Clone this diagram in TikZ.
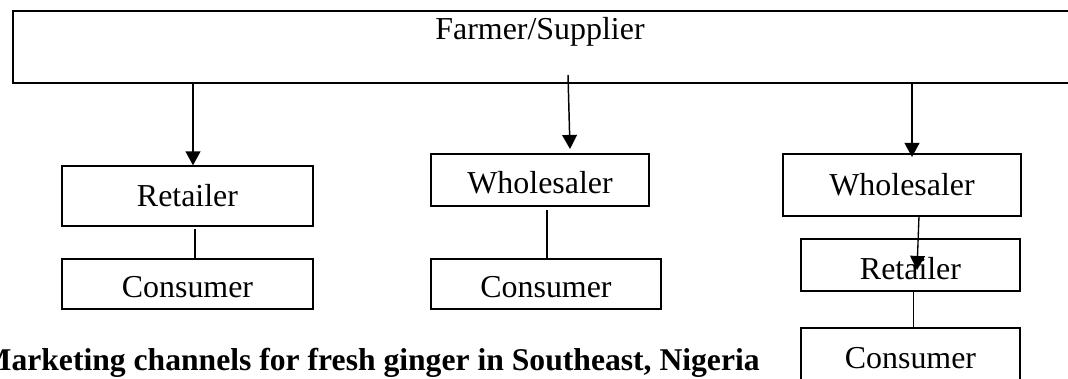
\documentclass[tikz,border=0pt]{standalone}
\usepackage{fontspec}
\setmainfont{Liberation Serif}
\usetikzlibrary{arrows.meta}

\tikzset{
  chanbox/.style={draw, line width=0.9pt, inner sep=0pt,
    font=\fontsize{22.7}{27}\selectfont},
  lowtext/.style={text height=#1, text depth=0pt},
  flow/.style={-{Triangle[length=10pt,width=10.5pt]}}
}

\begin{document}
\begin{tikzpicture}[x=0.025cm,y=-0.025cm]
   \useasboundingbox (0,0) rectangle (1068,379);
   \clip (0,0) rectangle (1068,379);
   \node[draw, line width=1.2pt, anchor=north west, minimum width=30cm,
     minimum height=1.8cm, inner sep=0pt] (farmer) at (12,10) {};
   \node[anchor=base, inner sep=0pt, font=\fontsize{22.7}{27}\selectfont] (farmerlbl) at (540,40) {Farmer/Supplier};
   \node[chanbox, minimum width=6.275cm, minimum height=1.5cm] (retail1) at (187.5,196) {Retailer};
   \node[chanbox, lowtext=19.9pt, minimum width=6.275cm, minimum height=1.25cm] (cons1) at (187.5,284) {Consumer};
   \node[chanbox, lowtext=18.5pt, minimum width=5.45cm, minimum height=1.3cm] (whole2) at (540,180) {Wholesaler};
   \node[chanbox, lowtext=19.9pt, minimum width=5.75cm, minimum height=1.25cm] (cons2) at (546,284) {Consumer};
   \node[chanbox, minimum width=5.95cm, minimum height=1.55cm] (whole3) at (902,185) {Wholesaler};
   \node[chanbox, lowtext=21.3pt, minimum width=5.475cm, minimum height=1.3cm] (retail3) at (910.5,265) {Retailer};
   \node[chanbox, minimum width=5.475cm, minimum height=1.5cm] (cons3) at (910.5,358) {Consumer};
   \node[anchor=base east, inner sep=0pt, font=\fontsize{22.5}{27}\selectfont\bfseries] (caption) at (760,371)
     {Marketing channels for fresh ginger in Southeast, Nigeria};
   \coordinate (a1) at (193,82);
   \coordinate (a2) at (568,75);
   \coordinate (t2) at (570,149);
   \coordinate (a3) at (912,82);
   \coordinate (t3) at (912,157);
   \coordinate (a4) at (919,216);
   \coordinate (t4) at (917,270);
   \draw[flow, line width=1.4pt] (a1) -- (a1 |- retail1.north);
   \draw[flow, line width=1.05pt] (a2) -- (t2);
   \draw[flow, line width=1.15pt] (a3) -- (t3);
   \draw[flow, line width=0.95pt] (a4) -- (t4);
   \coordinate (c1) at (195,229);
   \coordinate (c2) at (547,210);
   \coordinate (c3) at (913.5,291);
   \draw[line width=0.9pt] (c1) -- (c1 |- cons1.north);
   \draw[line width=0.9pt] (c2) -- (c2 |- cons2.north);
   \draw[line width=0.9pt] (c3) -- (c3 |- cons3.north);
  \end{tikzpicture}
\end{document}
